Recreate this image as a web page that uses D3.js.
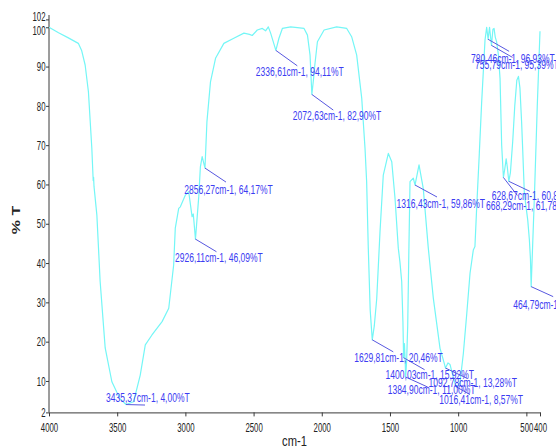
<!DOCTYPE html>
<html>
<head>
<meta charset="utf-8">
<script src="https://cdn.jsdelivr.net/npm/d3@7"></script>
<style>
  body { margin: 0; background: #fff; }
  svg { display: block; }
</style>
</head>
<body>
<script>
// IR spectrum, wavenumber (cm-1) vs transmittance (%T)
var wavenumbers = [4000, 3930, 3858, 3785, 3760, 3735, 3711, 3686, 3676, 3673, 3670, 3649, 3625, 3588, 3539, 3480,
    3435.37, 3380, 3331, 3294, 3245, 3171, 3122, 3086, 3074, 3049, 3037, 3000, 2976, 2951, 2942, 2926.11,
    2902, 2890, 2877, 2856.27, 2842, 2816, 2779, 2718, 2645, 2571, 2530, 2510, 2473, 2436, 2412, 2392, 2375,
    2336.61, 2314, 2289, 2228, 2130, 2105, 2086, 2072.63, 2060, 2051, 2032, 1983, 1891, 1817, 1781, 1744,
    1707, 1683, 1671, 1659, 1645, 1629.81, 1615, 1597, 1573, 1549, 1512, 1487, 1463, 1439, 1427, 1414, 1405,
    1400.03, 1394, 1389, 1384.90, 1378, 1370, 1362, 1353, 1329, 1316.43, 1287, 1256, 1219, 1182, 1133, 1110,
    1092.78, 1075, 1060, 1040, 1016.41, 1000, 987, 962, 937, 913, 889, 877, 864, 845, 828, 803, 791,
    780.46, 770, 755.79, 745, 737, 728, 718, 705, 693, 681, 668.29, 658, 648, 640, 628.67, 617, 600, 585,
    570, 558, 547, 535, 527, 515, 505, 490, 478, 470, 464.79, 440, 420, 400];
var transmittance = [100.0, 98.6, 97.3, 95.9, 94.0, 90.4, 83.6, 69.2, 61.0, 61.8, 59.5, 52.2, 35.3, 18.4, 9.8, 5.5,
    4.00, 4.7, 11.5, 19.2, 21.7, 25.1, 28.5, 39.5, 48.9, 53.9, 54.3, 57.3, 58.2, 51.8, 52.5, 46.09,
    56.9, 64.5, 67.1, 64.17, 76.0, 86.1, 92.1, 95.9, 97.2, 98.5, 98.2, 97.9, 99.3, 99.7, 99.1, 100.1, 98.5,
    94.11, 97.2, 99.7, 100.1, 99.7, 98.0, 92.9, 82.90, 87.0, 90.4, 96.3, 99.3, 100.1, 99.7, 97.6, 92.9,
    81.9, 69.2, 60.7, 43.8, 28.0, 20.46, 24.0, 31.0, 48.0, 62.4, 67.9, 65.8, 56.5, 43.8, 40.3, 35.3, 25.0,
    15.92, 19.5, 15.5, 11.00, 15.0, 24.0, 42.0, 60.7, 61.6, 59.86, 65.0, 59.0, 43.8, 31.0, 18.3, 15.5,
    13.28, 14.6, 14.2, 11.5, 8.57, 8.9, 9.5, 17.0, 27.1, 37.4, 43.3, 44.2, 54.3, 67.9, 80.7, 96.8, 100.0,
    96.93, 100.0, 95.39, 99.5, 99.7, 97.5, 96.3, 93.0, 87.0, 70.0, 61.78, 64.0, 66.5, 64.5, 60.80, 63.0, 71.0, 80.0,
    86.5, 87.5, 84.5, 76.0, 69.0, 58.0, 55.0, 51.0, 46.0, 41.0, 34.00, 58.0, 80.0, 99.0];

// labelled peaks
var peakWn = [3435.37, 2926.11, 2856.27, 2336.61, 2072.63, 1629.81, 1400.03, 1384.90, 1092.78, 1016.41,
    1316.43, 780.46, 755.79, 668.29, 628.67, 464.79];
var peakT = [4.00, 46.09, 64.17, 94.11, 82.90, 20.46, 15.92, 11.00, 13.28, 8.57,
    59.86, 96.93, 95.39, 61.78, 60.80, 34.00];

var xTicks = [4000, 3500, 3000, 2500, 2000, 1500, 1000, 500, 400];
var yTicks = [2, 10, 20, 30, 40, 50, 60, 70, 80, 90, 100, 102];

// where each label sits relative to its peak: text dx, text dy, leader dx, leader dy
var labelPlace = [[-20, -2.5, 19, 0.5], [-20.5, 23, 21, 12.6], [-20.7, 26, 21, 14], [-20, 26, 21.4, 15.4],
    [-19, 26, 21.4, 15.6], [-18, 22, 21, 12], [-18, 21, 21, 12], [-18, 17, 22, 10], [-17, 18.5, 21, 10],
    [-16.6, 17.4, 14, 8], [-18.4, 22.6, 22, 12], [-17, 23.6, 21, 12], [-16.5, 24, 21, 12],
    [-17.4, 33, 14, 18], [-17, 19, 21, 10], [-18, 22.4, 22, 10]];

var w = 556, h = 448;

var svg = d3.select("body").append("svg")
    .attr("width", w)
    .attr("height", h);

var x = d3.scaleLinear().domain([4000, 400]).range([49, 540]);
var y = d3.scaleLinear().domain([2, 102]).range([412.4, 19.4]);

var fmt = function(v) { return d3.format(".2f")(v).replace(".", ","); };

// axes
var xAxis = svg.append("g")
    .attr("transform", "translate(0," + y(2) + ")")
    .call(d3.axisBottom(x).tickValues(xTicks).tickSize(4).tickSizeOuter(0).tickPadding(6)
        .tickFormat(d3.format("d")));
var yAxis = svg.append("g")
    .attr("transform", "translate(" + x(4000) + ",0)")
    .call(d3.axisLeft(y).tickValues(yTicks).tickSize(3).tickSizeOuter(0).tickFormat(d3.format("d")));

// left axis line runs a little above the 102 tick
yAxis.select(".domain").attr("d", "M0," + y(2) + "V15");

svg.selectAll(".domain, .tick line").attr("stroke", "#3a3a3a");
xAxis.selectAll("text")
    .attr("font-family", "'Liberation Sans', Arial, sans-serif")
    .attr("font-size", "13px")
    .attr("fill", "#222")
    .attr("transform", "scale(0.6,1)");
yAxis.selectAll("text")
    .attr("x", null)
    .attr("font-family", "'Liberation Sans', Arial, sans-serif")
    .attr("font-size", "13px")
    .attr("fill", "#222")
    .attr("transform", function(d) {
        var nudge = d === 102 ? -3 : (d === 100 ? 3.5 : 0);
        return "translate(-3.5," + nudge + ") scale(0.6,1)";
    });

// axis titles
svg.append("text")
    .attr("transform", "translate(" + (x(2200)) + ",446) scale(0.8,1)")
    .attr("text-anchor", "middle")
    .attr("font-family", "'Liberation Sans', Arial, sans-serif")
    .attr("font-size", "14px")
    .attr("fill", "#222")
    .text("cm-1");
svg.append("text")
    .attr("transform", "translate(20,220) scale(0.65,1) rotate(-90)")
    .attr("text-anchor", "middle")
    .attr("font-family", "'Liberation Sans', Arial, sans-serif")
    .attr("font-weight", "bold")
    .attr("font-size", "16px")
    .attr("fill", "#222")
    .text("% T");

// spectrum
var points = wavenumbers.map(function(d, i) { return [d, transmittance[i]]; });
var line = d3.line()
    .x(function(d) { return x(d[0]); })
    .y(function(d) { return y(d[1]); });

svg.append("path")
    .datum(points)
    .attr("fill", "none")
    .attr("stroke", "#74f6f6")
    .attr("stroke-width", 1.2)
    .attr("stroke-linejoin", "round")
    .attr("d", line);

// peak labels
var peaks = peakWn.map(function(d, i) { return { wn: d, t: peakT[i], p: labelPlace[i] }; });

svg.selectAll("line.leader")
    .data(peaks)
    .enter()
    .append("line")
    .attr("class", "leader")
    .attr("x1", function(d) { return x(d.wn); })
    .attr("y1", function(d) { return y(d.t); })
    .attr("x2", function(d) { return x(d.wn) + d.p[2]; })
    .attr("y2", function(d) { return y(d.t) + d.p[3]; })
    .attr("stroke", "#5858e0")
    .attr("stroke-width", 1);

svg.selectAll("text.peak")
    .data(peaks)
    .enter()
    .append("text")
    .attr("class", "peak")
    .attr("transform", function(d) {
        return "translate(" + (x(d.wn) + d.p[0]) + "," + (y(d.t) + d.p[1]) + ") scale(0.71,1)";
    })
    .attr("font-family", "'Liberation Sans', Arial, sans-serif")
    .attr("font-size", "12px")
    .attr("fill", "#3c3cf2")
    .text(function(d) { return fmt(d.wn) + "cm-1, " + fmt(d.t) + "%T"; });
</script>
</body>
</html>
